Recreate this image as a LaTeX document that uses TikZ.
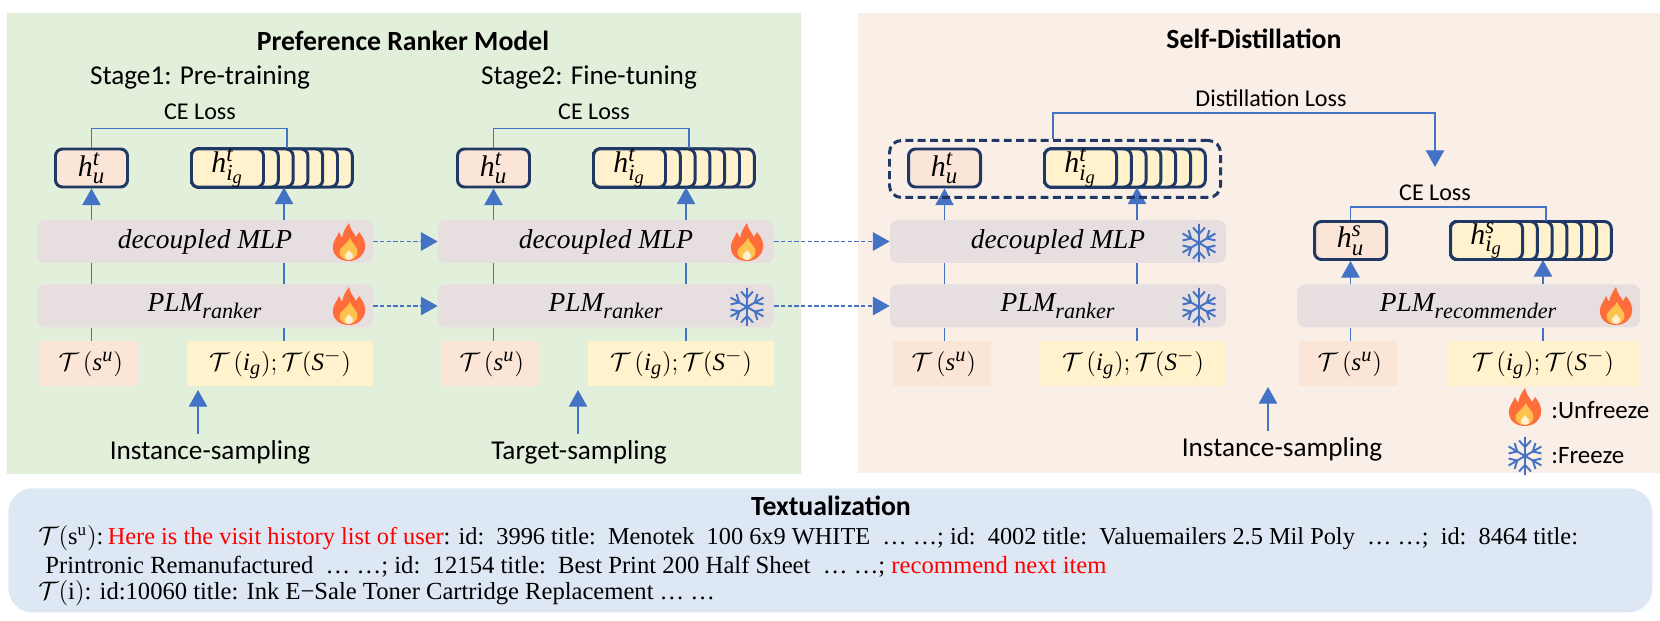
\documentclass[tikz,border=0pt]{standalone}
\usepackage{fontspec}
\setmainfont{Carlito}
\setmathrm{Liberation Serif}
\newfontfamily\bodyserif{Liberation Serif}
\usetikzlibrary{arrows.meta}
\DeclareMathSizes{15.6}{15.6}{12.6}{10}
\DeclareMathSizes{17}{17}{13}{10.5}
\DeclareMathSizes{14.2}{14.2}{11.5}{9}

\definecolor{panelgreen}{HTML}{E2EFDA}
\definecolor{panelpeach}{HTML}{FAEFE7}
\definecolor{panelblue}{HTML}{DEE8F4}
\definecolor{layergray}{HTML}{E7DFDF}
\definecolor{cellpeach}{HTML}{FBE5D6}
\definecolor{cellyellow}{HTML}{FFF2CC}
\definecolor{navyline}{HTML}{1F3864}
\definecolor{flowblue}{HTML}{4472C4}
\definecolor{flameout}{HTML}{FF6D3B}
\definecolor{flamein}{HTML}{FFC24D}
\definecolor{flamecore}{HTML}{FFF0D0}

\tikzset{
  flameicon/.pic={
    \fill[flameout] (0,19) .. controls (-12,19) and (-17,11) .. (-16,3)
      .. controls (-15,-2) and (-12,-5) .. (-10,-10)
      .. controls (-9,-8) and (-8,-6) .. (-7,-4)
      .. controls (-6,-10) and (-3,-15) .. (0,-19)
      .. controls (1,-13) and (5,-9) .. (7,-5)
      .. controls (8,-7) and (9,-8) .. (10,-10)
      .. controls (14,-5) and (17,0) .. (16,6)
      .. controls (15,14) and (8,19) .. (0,19) -- cycle;
    \fill[flamein] (0,18) .. controls (-7,18) and (-11,13) .. (-9,8)
      .. controls (-7,4) and (-2,2) .. (1,-4)
      .. controls (3,1) and (6,3) .. (8,7)
      .. controls (10,12) and (6,18) .. (0,18) -- cycle;
    \fill[flamecore] (0,18) .. controls (-3,18) and (-5,15) .. (-4,13)
      .. controls (-3,11) and (-1,10) .. (0,8)
      .. controls (1,10) and (3,11) .. (4,13)
      .. controls (5,15) and (3,18) .. (0,18) -- cycle;
  },
  snowicon/.pic={
    \foreach \ang in {30,90,...,330} {
      \draw[flowblue, line width=1.1pt, rotate=\ang]
        (0,0) -- (19,0) (9,0) -- (15.5,6) (9,0) -- (15.5,-6);
    }
  }
}

\begin{document}
\begin{tikzpicture}[x=.02cm,y=-.02cm]

    % Tamanho de um pixel da figura e dos blocos
    \def\szu{.02cm}
    \def\szlw{336*\szu}
    \def\szlh{43*\szu}

    \tikzstyle{panel} = [rectangle, anchor=north west, inner sep=0pt];
    \tikzstyle{layer} = [
      fill=layergray, rectangle, rounded corners=8*\szu,
      minimum width=\szlw, minimum height=\szlh, inner sep=0pt,
      font=\fontsize{15.6}{17}\selectfont
    ];
    \tikzstyle{cell} = [
      rectangle, inner sep=0pt, minimum height=45*\szu,
      font=\fontsize{14.2}{16}\selectfont
    ];
    \tikzstyle{hbox} = [
      draw=navyline, rectangle, line width=1.7pt, rounded corners=7*\szu,
      minimum height=38*\szu, minimum width=72*\szu, inner sep=0pt,
      font=\fontsize{17}{18}\selectfont
    ];
    \tikzstyle{lbl} = [inner sep=0pt, font=\fontsize{15.5}{17}\selectfont];
    \tikzstyle{loss} = [inner sep=0pt, font=\fontsize{13.7}{15}\selectfont];
    \tikzstyle{head} = [inner sep=0pt, font=\fontsize{15.8}{17}\selectfont\bfseries];
    \tikzstyle{bodyline} = [
      inner sep=0pt, anchor=west, font=\fontsize{13.85}{16}\bodyserif
    ];
    \tikzstyle{link} = [draw=flowblue, line width=.7pt];
    \tikzstyle{flow} = [link, -{Triangle[width=10.5pt,length=9.5pt]}];
    \tikzstyle{dashflow} = [flow, dash pattern=on 2.4pt off 1.4pt];

    % Formulas em italico serifado
    \def\mi#1{\mathit{#1}}
    \def\Tsu{\hspace*{2pt}$\mathcal{T}\,(\mi{s}^{\mi{u}})$}
    \def\Tig{$\mathcal{T}\,(\mi{i}_{\mi{g}});\mathcal{T}(\mi{S}^{-})$}

    % Paineis de fundo
    \useasboundingbox (0,0) rectangle (1660,621);
    \node[panel, fill=panelgreen, minimum width=794*\szu, minimum height=461*\szu] (rankerpanel) at (7,13) {};
    \node[panel, fill=panelpeach, minimum width=802*\szu, minimum height=460*\szu] (selfpanel) at (858,13) {};
    \node[panel, fill=panelblue, rounded corners=24*\szu, minimum width=1644*\szu, minimum height=124*\szu] (textpanel) at (8,488) {};

    % Titulos dos paineis
    \node[head] (rankertitle) at (403,41) {Preference Ranker Model};
    \node[head] (selftitle) at (1254,39) {Self-Distillation};
    \node[head] (texttitle) at (831,506) {Textualization};
    \node[lbl] (stageone) at (200,77) {Stage1: Pre-training};
    \node[lbl] (stagetwo) at (589,77) {Stage2: Fine-tuning};

    % Saidas h: bloco simples e pilha de blocos
    \foreach \tag/\xh/\yh/\hs in {A/55/168/t,B/457/168/t,C/908/168/t,D/1314/240.5/s}
    {
      \node[hbox, fill=cellpeach] (hu\tag) at (\xh+36.5,\yh) {$\mi{h}_{\mi{u}}^{\mi{\hs}}$};
      \foreach \k in {6,5,...,1}
      {
        \node[hbox, fill=cellyellow, anchor=west, minimum width={(72+14.8*\k)*\szu}] (hi\tag\k) at (\xh+135,\yh) {};
      }
      \node[hbox, fill=cellyellow, anchor=west] (hi\tag) at (\xh+135,\yh) {$\mi{h}_{\mi{i}_{\mi{g}}}^{\mi{\hs}}$};
      \coordinate (up\tag) at (\xh+229,\yh+19.5);
      \coordinate (ce\tag) at (\xh+232,\yh-19.5);
    }

    % Camadas e entradas das tres primeiras colunas
    \foreach \tag/\xl in {A/37,B/438,C/890}
    {
      \node[layer] (mlp\tag) at (\xl+168,241.5) {\bodyserif\itshape decoupled MLP};
      \node[layer] (plm\tag) at (\xl+168,306) {$\mi{PLM}_{\mi{ranker}}$};
      \node[cell, fill=cellpeach, minimum width=98*\szu] (su\tag) at (\xl+52,364) {\Tsu};
      \node[cell, fill=cellyellow, minimum width=186*\szu] (si\tag) at (\xl+243,364) {\Tig};
    }

    % Coluna do recomendador
    \node[layer, minimum width=343*\szu] (plmD) at (1468.5,306) {$\mi{PLM}_{\mi{recommender}}$};
    \node[cell, fill=cellpeach, minimum width=98*\szu] (suD) at (1348,364) {\Tsu};
    \node[cell, fill=cellyellow, minimum width=192*\szu] (siD) at (1543,364) {\Tig};

    % Ligacoes verticais
    \foreach \tag in {A,B,C}
    {
      \draw[flow] (mlp\tag.north -| hu\tag) -- (hu\tag.south);
      \draw[flow] (mlp\tag.north -| up\tag) -- (up\tag);
      \draw[link] (plm\tag.north -| hu\tag) -- (mlp\tag.south -| hu\tag);
      \draw[link] (plm\tag.north -| up\tag) -- (mlp\tag.south -| up\tag);
    }
    \foreach \tag in {A,B,C,D}
    {
      \draw[link] (su\tag.north -| hu\tag) -- (plm\tag.south -| hu\tag);
      \draw[link] (si\tag.north -| up\tag) -- (plm\tag.south -| up\tag);
    }
    \draw[flow] (plmD.north -| huD) -- (huD.south);
    \draw[flow] (plmD.north -| upD) -- (upD);

    % Perdas CE
    \node[loss] (celabelA) at (200,112) {CE Loss};
    \node[loss] (celabelB) at (594,112) {CE Loss};
    \node[loss] (celabelD) at (1435,193) {CE Loss};
    \draw[link] (huA.north) -- ++(0,-19) -| (ceA);
    \draw[link] (huB.north) -- ++(0,-19) -| (ceB);
    \draw[link] (huD.north) -- ++(0,-13) -| (ceD);

    % Amostragem
    \node[lbl] (sampleA) at (210,452) {Instance-sampling};
    \node[lbl] (sampleB) at (579,452) {Target-sampling};
    \node[lbl] (sampleC) at (1282,449) {Instance-sampling};
    \coordinate (tipA) at (198,390);
    \coordinate (tipB) at (578,390);
    \coordinate (tipC) at (1268,387);
    \draw[flow] (tipA |- sampleA.north) ++(0,-6) -- (tipA);
    \draw[flow] (tipB |- sampleB.north) ++(0,-6) -- (tipB);
    \draw[flow] (tipC |- sampleC.north) ++(0,-6) -- (tipC);

    % Setas tracejadas entre as colunas
    \draw[dashflow] (mlpA.east) -- (mlpB.west);
    \draw[dashflow] (plmA.east) -- (plmB.west);
    \draw[dashflow] (mlpB.east) -- (mlpC.west);
    \draw[dashflow] (plmB.east) -- (plmC.west);

    % Caixa tracejada e perda de destilacao
    \node[panel, draw=navyline, line width=1.7pt, dash pattern=on 4.5pt off 2.5pt, rounded corners=12*\szu, minimum width=331*\szu, minimum height=57*\szu] (teacherbox) at (888,139) {};
    \node[loss] (distlabel) at (1271,98) {Distillation Loss};
    \coordinate (distout) at (1053,139);
    \coordinate (distbar) at (1053,113);
    \coordinate (distin) at (1435,167);
    \draw[flow] (distout) -- (distbar) -| (distin);

    % Icones
    \pic at (349,242) {flameicon};
    \pic at (349,306) {flameicon};
    \pic at (747,242) {flameicon};
    \pic at (747,307) {snowicon};
    \pic at (1199,243) {snowicon};
    \pic at (1199,307) {snowicon};
    \pic at (1616,306) {flameicon};

    % Legenda
    \pic at (1525,407) {flameicon};
    \pic at (1525,456) {snowicon};
    \node[loss, font=\fontsize{14.2}{16}\selectfont, anchor=west] (legendhot) at (1551,410) {:Unfreeze};
    \node[loss, font=\fontsize{14.2}{16}\selectfont, anchor=west] (legendcold) at (1551,456) {:Freeze};

    % Texto do painel inferior
    \node[bodyline] (lineone) at (38,538) {$\mathcal{T}(\mathrm{s^u})$:\hspace{2.5pt}\textcolor{red}{Here is the visit history list of user}: id:~~3996 title:~~Menotek~~100 6x9 WHITE~~… …; id:~~4002 title:~~Valuemailers 2.5 Mil Poly~~… …;~~id:~~8464 title:};
    \node[bodyline, font=\fontsize{14.05}{16}\bodyserif] (linetwo) at (45,567) {Printronic Remanufactured~~… …; id:~~12154 title:~~Best Print 200 Half Sheet~~… …; \textcolor{red}{recommend next item}};
    \node[bodyline, font=\fontsize{14}{16}\bodyserif] (linethree) at (38,593) {$\mathcal{T}(\mathrm{i})$: id:10060 title: Ink E−Sale Toner Cartridge Replacement … …};

\end{tikzpicture}
\end{document}
